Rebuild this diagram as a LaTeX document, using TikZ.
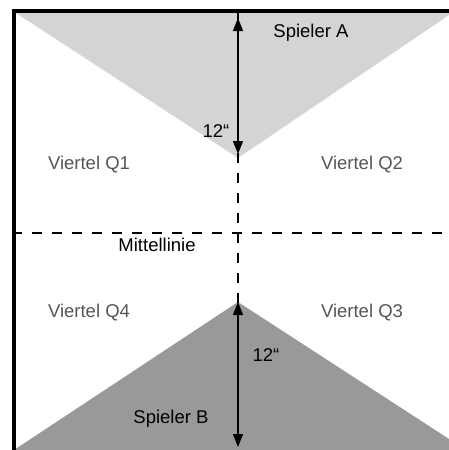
\documentclass[tikz,border=0pt]{standalone}
\usepackage{fontspec}
\setmainfont{Liberation Sans}
\usetikzlibrary{arrows.meta}
\definecolor{lightfield}{HTML}{D4D4D4}
\definecolor{darkfield}{HTML}{999999}
\definecolor{quartertext}{HTML}{555555}
\begin{document}
\begin{tikzpicture}[x=1pt,y=-1pt,
  lbl/.style={font=\fontsize{18.5}{21}\selectfont, inner sep=0pt, text=black},
  qlbl/.style={lbl, text=quartertext},
  centerline/.style={line width=2.6pt, dash pattern=on 10pt off 10pt},
  measure/.style={line width=1.3pt, {Triangle[length=13pt,width=10pt]}-{Triangle[length=13pt,width=10pt]}},
  border/.style={line width=3.5pt}]
\useasboundingbox (0,0) rectangle (449,450);
\begin{scope}
\clip (0,0) rectangle (449,450);
% corners
\coordinate (tl) at (16,13);
\coordinate (tr) at (452,13);
\coordinate (apexA) at (238,158);
\coordinate (bl) at (14,450);
\coordinate (br) at (466,450);
\coordinate (apexB) at (238,302);
\fill[lightfield] (tl) -- (tr) -- (apexA) -- cycle;
\fill[darkfield] (bl) -- (br) -- (apexB) -- cycle;
% center lines
\coordinate (vtop) at (238,13);
\coordinate (vbot) at (238,452);
\coordinate (hl) at (16,233);
\coordinate (hr) at (452,233);
\draw[centerline] (vtop) -- (vbot);
\draw[centerline, dash phase=4pt] (hl) -- (hr);
% measurement arrows
\coordinate (aTop) at (238,18);
\coordinate (aBot) at (238,154);
\coordinate (bTop) at (238,302);
\coordinate (bBot) at (238,447);
\draw[measure] (aTop) -- (aBot);
\draw[measure] (bTop) -- (bBot);
% border
\coordinate (b0) at (14,450);
\coordinate (b1) at (14,11);
\coordinate (b2) at (452,11);
\draw[border] (b0) -- (b1) -- (b2);
\end{scope}
% labels
\node[lbl] (spA) at (311,33) {Spieler A};
\node[lbl] (spB) at (171,419) {Spieler B};
\node[lbl] (dA) at (216,131) {12“};
\node[lbl] (dB) at (266,355) {12“};
\node[lbl] (mid) at (157,245) {Mittellinie};
\node[qlbl] (q1) at (89,165) {Viertel Q1};
\node[qlbl] (q2) at (362,165) {Viertel Q2};
\node[qlbl] (q4) at (89,313) {Viertel Q4};
\node[qlbl] (q3) at (362,313) {Viertel Q3};
\end{tikzpicture}
\end{document}
